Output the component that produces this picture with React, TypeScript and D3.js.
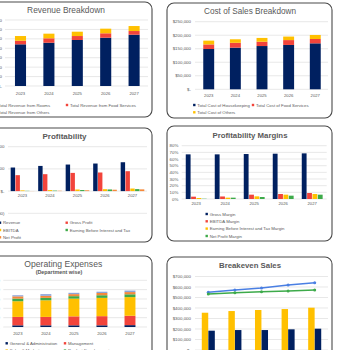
import React from 'react';
import * as d3 from 'd3';

const years = ['2023', '2024', '2025', '2026', '2027'];

// Revenue Breakdown
const revenueKeys = ['Total Revenue from Rooms', 'Total Revenue from Food Services', 'Total Revenue from Others'];
const revRooms = [442000, 459000, 488000, 512000, 544000];
const revFood = [38000, 47000, 42000, 47000, 39000];
const revOthers = [50000, 49000, 46000, 49000, 53000];
const revTicks = [0, 100000, 200000, 300000, 400000, 500000, 600000, 700000];

// Cost of Sales Breakdown
const costKeys = ['Total Cost of Housekeeping', 'Total Cost of Food Services', 'Total Cost of Others'];
const costHousekeeping = [149000, 154000, 160000, 164000, 170000];
const costFood = [17000, 18000, 16000, 18000, 16000];
const costOthers = [14000, 13000, 14000, 13000, 15000];
const costTicks = [0, 50000, 100000, 150000, 200000, 250000];

// Profitability
const profitKeys = ['Revenue', 'Gross Profit', 'EBITDA', 'Earning Before Interest and Tax', 'Net Profit'];
const profRevenue = [531000, 567000, 598000, 621000, 650000];
const profGross = [359000, 381000, 410000, 419000, 448000];
const profEbitda = [16000, 23000, 36000, 43000, 58000];
const profEbit = [6000, 11000, 24000, 37000, 45000];
const profNet = [2000, 8000, 18000, 31000, 39000];
const profTicks = [-500000, 0, 500000, 1000000];

// Profitability Margins
const marginKeys = ['Gross Margin', 'EBITDA Margin', 'Earning Before Interest and Tax Margin', 'Net Profit Margin'];
const mGross = [0.67, 0.67, 0.675, 0.68, 0.685];
const mEbitda = [0.035, 0.038, 0.065, 0.075, 0.09];
const mEbit = [0.015, 0.02, 0.04, 0.065, 0.075];
const mNet = [0.004, 0.02, 0.03, 0.05, 0.065];
const marginTicks = [0, 0.1, 0.2, 0.3, 0.4, 0.5, 0.6, 0.7, 0.8];

// Operating Expenses
const opexKeys = ['General & Administration', 'Management', 'Sales & Marketing', 'Product Development', 'Maintenance', 'Utilities'];
const opexGA = [9000, 9000, 9000, 9000, 10000];
const opexMgmt = [45000, 45000, 48000, 49000, 50000];
const opexSales = [84000, 89000, 95000, 98000, 100000];
const opexProduct = [14000, 13000, 13000, 14000, 15000];
const opexMaint = [12000, 11000, 11000, 12000, 12000];
const opexUtil = [6000, 9000, 7000, 7000, 8000];
const opexTicks = [0, 50000, 100000, 150000, 200000, 250000];

// Breakeven Sales
const beKeys = ['Breakeven Sales', 'Fixed Costs', 'Revenue', 'Safety Margin Sales'];
const beSales = [355000, 371000, 381000, 390000, 403000];
const beFixed = [184000, 190000, 190000, 197000, 203000];
const beRevenue = [550000, 571000, 590000, 619000, 641000];
const beOther = [533000, 546000, 555000, 562000, 571000];
const beTicks = [0, 100000, 200000, 300000, 400000, 500000, 600000, 700000];

const FONT = '"Liberation Sans", Arial, sans-serif';
const NAVY = '#002060';
const RED = '#F2443B';
const YELLOW = '#FFC000';
const GREEN = '#3DAA4A';
const ORANGE = '#F5893A';
const LBLUE = '#8EA4D8';
const LINEBLUE = '#4A7FE3';
const GRID = '#D9D9D9';
const TXT = '#595959';

const money = (v: number) => {
  if (v === 0) return '$-';
  const s = d3.format(',')(Math.abs(v));
  return v < 0 ? `($${s})` : `$${s}`;
};
const pct = d3.format('.0%');

function band(r0: number, r1: number, frac: number) {
  return d3.scaleBand<string>().domain(years).range([r0, r1]).paddingInner(1 - frac).paddingOuter((1 - frac) / 2);
}

function Panel({ x, y, w, h }: any) {
  return <rect x={x} y={y} width={w} height={h} rx={7} ry={7} fill="#fff" stroke="#4a4a4a" strokeWidth={1.1} />;
}

function Grid({ y, ticks, x0, x1, labelX, fmt }: any) {
  return (
    <g>
      {ticks.map((t: number) => (
        <g key={t}>
          <line x1={x0} x2={x1} y1={y(t)} y2={y(t)} stroke={GRID} strokeWidth={0.6} />
          <text x={labelX} y={y(t)} dy="0.35em" textAnchor="end" fontSize={4.4} fill={TXT}>{fmt(t)}</text>
        </g>
      ))}
    </g>
  );
}

function YearLabels({ xs, y }: any) {
  return (
    <g>
      {years.map((yr) => (
        <text key={yr} x={(xs(yr) as number) + xs.bandwidth() / 2} y={y} dy="0.35em" textAnchor="middle" fontSize={4.2} fill={TXT}>{yr}</text>
      ))}
    </g>
  );
}

function Stacked({ xs, y, keys, data, colors }: any) {
  const rows = years.map((yr, i) => {
    const o: any = { year: yr };
    keys.forEach((k: string, j: number) => (o[k] = data[j][i]));
    return o;
  });
  const st = d3.stack().keys(keys)(rows);
  return (
    <g>
      {st.map((layer: any, j: number) =>
        layer.map((d: any, i: number) => (
          <rect key={`${j}-${i}`} x={xs(years[i])} width={xs.bandwidth()} y={y(d[1])} height={Math.max(0, y(d[0]) - y(d[1]))} fill={colors[j]} />
        ))
      )}
    </g>
  );
}

function Grouped({ xs, y, keys, data, colors, pad = 0.08 }: any) {
  const inner = d3.scaleBand<string>().domain(keys).range([0, xs.bandwidth()]).paddingInner(pad);
  return (
    <g>
      {years.map((yr, i) => (
        <g key={yr}>
          {keys.map((k: string, j: number) => {
            const v = data[j][i];
            const y0 = y(0);
            const yv = y(v);
            return <rect key={k} x={(xs(yr) as number) + (inner(k) as number)} width={inner.bandwidth()} y={Math.min(y0, yv)} height={Math.abs(y0 - yv)} fill={colors[j]} />;
          })}
        </g>
      ))}
    </g>
  );
}

function Legend({ items }: any) {
  return (
    <g>
      {items.map((it: any) => (
        <g key={it.label}>
          <rect x={it.x - 1.2} y={it.y - 1.2} width={2.4} height={2.4} fill={it.color} />
          <text x={it.x + 3} y={it.y} dy="0.35em" fontSize={4.3} fill={TXT}>{it.label}</text>
        </g>
      ))}
    </g>
  );
}

function RevenuePanel() {
  const y = d3.scaleLinear().domain([0, 700000]).range([86, 20]);
  const xs = band(6.3, 148.3, 0.39);
  return (
    <g>
      <Panel x={-20} y={2} w={172} h={115} />
      <text x={66} y={13} textAnchor="middle" fontSize={8.4} fill={TXT}>Revenue Breakdown</text>
      <Grid y={y} ticks={revTicks} x0={5} x1={148} labelX={2} fmt={money} />
      <Stacked xs={xs} y={y} keys={revenueKeys} data={[revRooms, revFood, revOthers]} colors={[NAVY, RED, YELLOW]} />
      <YearLabels xs={xs} y={94} />
      <Legend items={[
        { x: -5, y: 105, color: NAVY, label: revenueKeys[0] },
        { x: 67, y: 105, color: RED, label: revenueKeys[1] },
        { x: -5, y: 112.5, color: YELLOW, label: revenueKeys[2] },
      ]} />
    </g>
  );
}

function CostPanel() {
  const y = d3.scaleLinear().domain([0, 250000]).range([89.3, 21.7]);
  const xs = band(195.4, 328.6, 0.41);
  return (
    <g>
      <Panel x={167} y={3} w={165} h={115} />
      <text x={250} y={14} textAnchor="middle" fontSize={8.2} fill={TXT}>Cost of Sales Breakdown</text>
      <Grid y={y} ticks={costTicks} x0={195} x1={328} labelX={191} fmt={money} />
      <Stacked xs={xs} y={y} keys={costKeys} data={[costHousekeeping, costFood, costOthers]} colors={[NAVY, RED, YELLOW]} />
      <YearLabels xs={xs} y={95.7} />
      <Legend items={[
        { x: 194.3, y: 105, color: NAVY, label: costKeys[0] },
        { x: 253, y: 105, color: RED, label: costKeys[1] },
        { x: 194.3, y: 112.3, color: YELLOW, label: costKeys[2] },
      ]} />
    </g>
  );
}

function ProfitPanel() {
  const y = d3.scaleLinear().domain([-500000, 1000000]).range([213.3, 146.7]);
  const xs = band(8.75, 146.25, 0.86);
  return (
    <g>
      <Panel x={-20} y={128} w={172} h={114} />
      <text x={64.5} y={139} textAnchor="middle" fontSize={8} fontWeight="bold" fill={TXT}>Profitability</text>
      <Grid y={y} ticks={profTicks} x0={8} x1={147} labelX={4.5} fmt={money} />
      <Grouped xs={xs} y={y} keys={profitKeys} data={[profRevenue, profGross, profEbitda, profEbit, profNet]} colors={[NAVY, RED, YELLOW, GREEN, ORANGE]} />
      <YearLabels xs={xs} y={196} />
      <Legend items={[
        { x: 0, y: 222.7, color: NAVY, label: profitKeys[0] },
        { x: 66.7, y: 222.7, color: RED, label: profitKeys[1] },
        { x: 0, y: 230, color: YELLOW, label: profitKeys[2] },
        { x: 66.7, y: 230, color: GREEN, label: profitKeys[3] },
        { x: 0, y: 237.3, color: ORANGE, label: profitKeys[4] },
      ]} />
    </g>
  );
}

function MarginPanel() {
  const y = d3.scaleLinear().domain([0, 0.8]).range([199, 145.7]);
  const xs = band(181.7, 326.7, 0.72);
  return (
    <g>
      <Panel x={167} y={126} w={165} h={115} />
      <text x={250} y={138} textAnchor="middle" fontSize={7.8} fontWeight="bold" fill={TXT}>Profitability Margins</text>
      <Grid y={y} ticks={marginTicks} x0={181.7} x1={326.7} labelX={178.3} fmt={pct} />
      <Grouped xs={xs} y={y} keys={marginKeys} data={[mGross, mEbitda, mEbit, mNet]} colors={[NAVY, RED, YELLOW, GREEN]} pad={0.1} />
      <YearLabels xs={xs} y={204} />
      <Legend items={[
        { x: 206.7, y: 214, color: NAVY, label: marginKeys[0] },
        { x: 206.7, y: 221.3, color: RED, label: marginKeys[1] },
        { x: 206.7, y: 228.6, color: YELLOW, label: marginKeys[2] },
        { x: 206.7, y: 236, color: GREEN, label: marginKeys[3] },
      ]} />
    </g>
  );
}

function OpexPanel() {
  const y = d3.scaleLinear().domain([0, 250000]).range([327, 280.3]);
  const xs = band(3.8, 144, 0.39);
  return (
    <g>
      <Panel x={-20} y={256} w={172} h={120} />
      <text x={63.3} y={267} textAnchor="middle" fontSize={8.6} fill={TXT}>Operating Expenses</text>
      <text x={59} y={274.3} textAnchor="middle" fontSize={5.4} fontWeight="bold" fill={TXT}>(Department wise)</text>
      <Grid y={y} ticks={opexTicks} x0={3.3} x1={147} labelX={0} fmt={money} />
      <Stacked xs={xs} y={y} keys={opexKeys} data={[opexGA, opexMgmt, opexSales, opexProduct, opexMaint, opexUtil]} colors={[NAVY, RED, YELLOW, GREEN, ORANGE, LBLUE]} />
      <YearLabels xs={xs} y={333.5} />
      <Legend items={[
        { x: 6.7, y: 343.3, color: NAVY, label: opexKeys[0] },
        { x: 65, y: 343.3, color: RED, label: opexKeys[1] },
        { x: 6.7, y: 350.6, color: YELLOW, label: opexKeys[2] },
        { x: 65, y: 350.6, color: GREEN, label: opexKeys[3] },
        { x: 6.7, y: 357.9, color: ORANGE, label: opexKeys[4] },
        { x: 65, y: 357.9, color: LBLUE, label: opexKeys[5] },
      ]} />
    </g>
  );
}

function BreakevenPanel() {
  const y = d3.scaleLinear().domain([0, 700000]).range([350, 276.5]);
  const xs = band(195, 328, 0.49);
  const cx = (yr: string) => (xs(yr) as number) + xs.bandwidth() / 2;
  const line = (vals: number[]) => d3.line<number>().x((_, i) => cx(years[i])).y((v) => y(v))(vals) as string;
  return (
    <g>
      <Panel x={167} y={257} w={165} h={120} />
      <text x={250} y={268} textAnchor="middle" fontSize={7.8} fontWeight="bold" fill={TXT}>Breakeven Sales</text>
      <Grid y={y} ticks={beTicks} x0={195} x1={328} labelX={191} fmt={money} />
      <Grouped xs={xs} y={y} keys={beKeys.slice(0, 2)} data={[beSales, beFixed]} colors={[YELLOW, NAVY]} pad={0.02} />
      {[{ vals: beRevenue, color: LINEBLUE }, { vals: beOther, color: GREEN }].map((s, k) => (
        <g key={k}>
          <path d={line(s.vals)} fill="none" stroke={s.color} strokeWidth={1.5} />
          {s.vals.map((v, i) => (
            <circle key={i} cx={cx(years[i])} cy={y(v)} r={1.5} fill={s.color} />
          ))}
        </g>
      ))}
    </g>
  );
}

export default function App() {
  return (
    <svg width={350} height={350} viewBox="0 0 350 350" style={{ position: 'absolute', left: 0, top: 0, background: '#fff', fontFamily: FONT }}>
      <rect x={0} y={0} width={350} height={350} fill="#fff" />
      <RevenuePanel />
      <CostPanel />
      <ProfitPanel />
      <MarginPanel />
      <OpexPanel />
      <BreakevenPanel />
    </svg>
  );
}
